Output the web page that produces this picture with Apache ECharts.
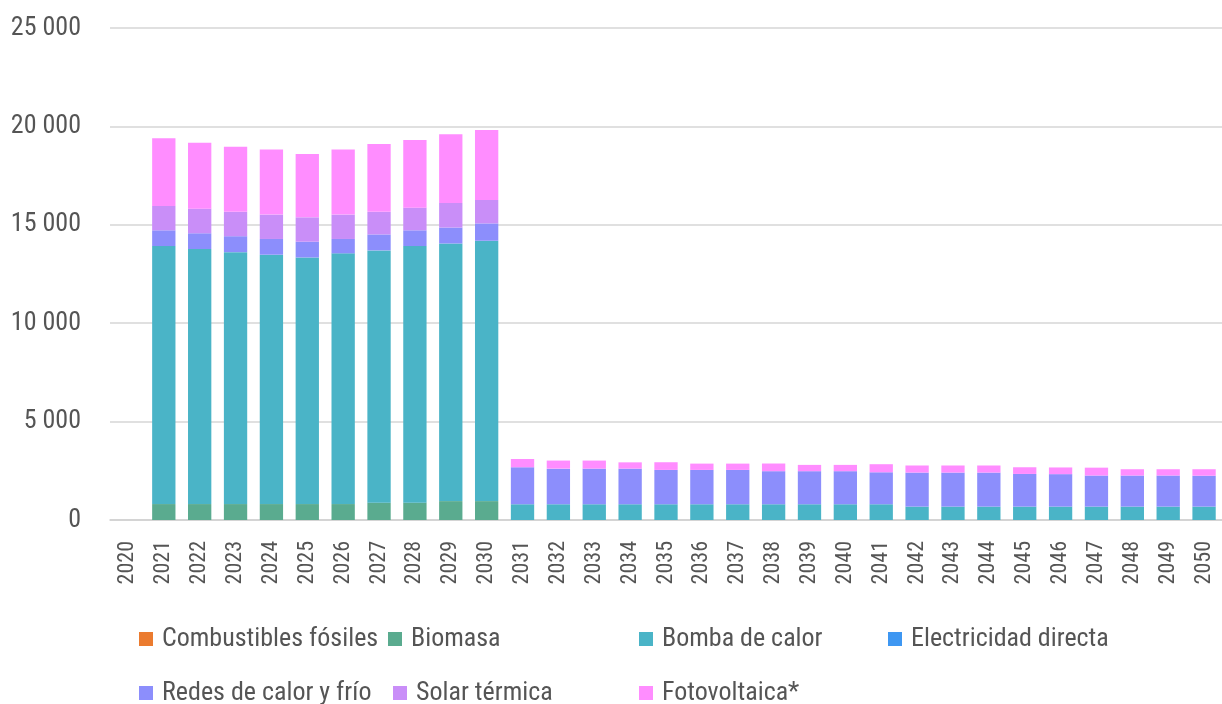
<!DOCTYPE html>
<html>
<head>
<meta charset="utf-8">
<script src="https://cdn.jsdelivr.net/npm/echarts@6/dist/echarts.min.js"></script>
<style>
  html, body { margin: 0; padding: 0; background: #ffffff; }
  #chart { width: 1222px; height: 704px; }
</style>
</head>
<body>
<div id="chart"></div>
<script>
// Years on the horizontal axis
const years = [];
for (let y = 2020; y <= 2050; y++) years.push(String(y));

// Series values (one entry per year, 2020 .. 2050)
const combustiblesFosiles = [0,0,0,0,0,0,0,0,0,0,0, 0,0,0,0,0,0,0,0,0,0, 0,0,0,0,0,0,0,0,0,0];
const biomasa = [0, 810,810,810,810,810,810,880,880,960,960,
  0,0,0,0,0,0,0,0,0,0, 0,0,0,0,0,0,0,0,0,0];
const bombaDeCalor = [0, 13110,12960,12800,12670,12530,12740,12820,13040,13090,13230,
  800,800,800,800,800,800,800,800,800,800, 800,680,680,680,680,680,680,680,680,680];
const electricidadDirecta = [0,0,0,0,0,0,0,0,0,0,0, 0,0,0,0,0,0,0,0,0,0, 0,0,0,0,0,0,0,0,0,0];
const redesCalorFrio = [0, 800,800,810,800,800,730,810,800,810,880,
  1880,1810,1810,1810,1745,1745,1745,1680,1680,1680, 1625,1730,1730,1730,1660,1650,1580,1580,1580,1570];
const solarTermica = [0, 1240,1250,1240,1240,1240,1240,1150,1150,1250,1190,
  0,0,0,0,0,0,0,0,0,0, 0,0,0,0,0,0,0,0,0,0];
const fotovoltaica = [0, 3440,3350,3300,3300,3220,3300,3440,3440,3490,3560,
  420,410,410,320,390,320,320,390,320,320, 410,360,360,360,340,340,400,320,320,330];

// Y axis ticks
const yTicks = [0, 5000, 10000, 15000, 20000, 25000];

// Pick the first installed family from a list of candidates
function pickFont(cands) {
  const ctx = document.createElement('canvas').getContext('2d');
  const probe = 'Combustibles fósiles 0123456789';
  ctx.font = '40px monospace';
  const base = ctx.measureText(probe).width;
  for (const c of cands) {
    ctx.font = '40px "' + c + '", monospace';
    if (Math.abs(ctx.measureText(probe).width - base) > 0.5) return c;
  }
  return 'sans-serif';
}
const FONT = pickFont(['Roboto Condensed', 'Liberation Sans Narrow', 'Roboto']);
const TEXT = '#555555';

const seriesDefs = [
  { name: 'Combustibles fósiles', data: combustiblesFosiles, color: '#EB7B2F' },
  { name: 'Biomasa', data: biomasa, color: '#5AAB8F' },
  { name: 'Bomba de calor', data: bombaDeCalor, color: '#4AB4C7' },
  { name: 'Electricidad directa', data: electricidadDirecta, color: '#3E97F2' },
  { name: 'Redes de calor y frío', data: redesCalorFrio, color: '#8C8EFC' },
  { name: 'Solar térmica', data: solarTermica, color: '#C98EF8' },
  { name: 'Fotovoltaica*', data: fotovoltaica, color: '#FF8DFF' }
];

// Legend slots: two rows, fixed columns
const legendSlots = [
  { left: 139, top: 626 }, { left: 388, top: 626 }, { left: 639, top: 626 }, { left: 888, top: 626 },
  { left: 139, top: 680 }, { left: 393, top: 680 }, { left: 639, top: 680 }
];

const fmt = v => String(Math.round(v)).replace(/\B(?=(\d{3})+(?!\d))/g, ' ');

const chart = echarts.init(document.getElementById('chart'));
chart.setOption({
  animation: false,
  backgroundColor: '#ffffff',
  grid: { left: 110, right: -9, top: 28, bottom: 184, containLabel: false },
  legend: seriesDefs.map((s, i) => ({
    data: [s.name],
    left: legendSlots[i].left,
    top: legendSlots[i].top,
    orient: 'horizontal',
    itemWidth: 14,
    itemHeight: 14,
    icon: 'rect',
    padding: 0,
    selectedMode: false,
    textStyle: { fontFamily: FONT, fontSize: 26, color: TEXT, padding: [0, 0, 0, 4] }
  })),
  xAxis: {
    type: 'category',
    data: years,
    axisLine: { show: true, lineStyle: { color: '#d0d0d0', width: 1.5 } },
    axisTick: { show: false },
    axisLabel: {
      interval: 0, rotate: 90, margin: 21,
      fontFamily: FONT, fontSize: 22, color: TEXT
    }
  },
  yAxis: {
    type: 'value',
    min: yTicks[0],
    max: yTicks[yTicks.length - 1],
    interval: yTicks[1] - yTicks[0],
    axisLine: { show: false },
    axisTick: { show: false },
    splitLine: { lineStyle: { color: '#d6d6d6', width: 1.5 } },
    axisLabel: {
      margin: 29, fontFamily: FONT, fontSize: 26, color: TEXT,
      formatter: fmt
    }
  },
  series: seriesDefs.map(s => ({
    name: s.name,
    type: 'bar',
    stack: 'total',
    barWidth: '65%',
    data: s.data,
    itemStyle: { color: s.color },
    emphasis: { disabled: true }
  }))
});
</script>
</body>
</html>
